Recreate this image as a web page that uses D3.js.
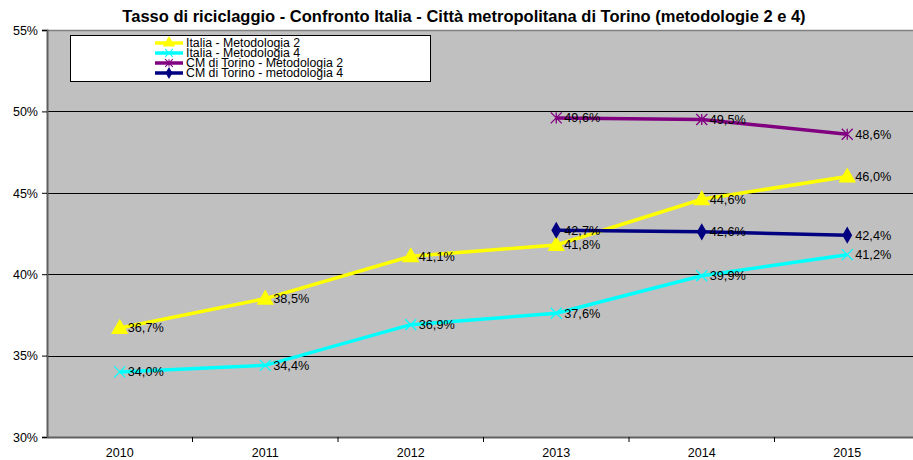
<!DOCTYPE html>
<html>
<head>
<meta charset="utf-8">
<script src="https://cdn.jsdelivr.net/npm/d3@7"></script>
<style>
  body { margin: 0; background: #fff; }
  text { font-family: Arial, "Liberation Sans", sans-serif; }
</style>
</head>
<body>
<svg id="chart" width="913" height="460"></svg>
<script>
// chart data
var years = ['2010', '2011', '2012', '2013', '2014', '2015']
var italiaM2 = [36.7, 38.5, 41.1, 41.8, 44.6, 46.0]
var italiaM4 = [34.0, 34.4, 36.9, 37.6, 39.9, 41.2]
var torinoM2 = [null, null, null, 49.6, 49.5, 48.6]
var torinoM4 = [null, null, null, 42.7, 42.6, 42.4]
var yTicks = [30, 35, 40, 45, 50, 55]
var seriesNames = ['Italia - Metodologia 2', 'Italia - Metodologia 4',
                   'CM di Torino - Metodologia 2', 'CM di Torino - metodologia 4']

var series = [
    { name: seriesNames[0], values: italiaM2, color: '#ffff00', marker: 'triangle' },
    { name: seriesNames[1], values: italiaM4, color: '#00ffff', marker: 'x' },
    { name: seriesNames[2], values: torinoM2, color: '#800080', marker: 'star' },
    { name: seriesNames[3], values: torinoM4, color: '#000080', marker: 'diamond' }
]

var svg = d3.select('#chart')
var plot = { left: 47, right: 920, top: 30, bottom: 437 }
var font = 'Arial, "Liberation Sans", sans-serif'

var x = d3.scaleBand().domain(years).range([plot.left, plot.right])
var y = d3.scaleLinear().domain([30, 55]).range([plot.bottom, plot.top])
var cx = function(i) { return x(years[i]) + x.bandwidth() / 2 }

// title
svg.append('text')
    .attr('x', 464).attr('y', 22)
    .attr('text-anchor', 'middle')
    .style('font-size', '16.5px').style('font-weight', 'bold')
    .text('Tasso di riciclaggio - Confronto Italia - Città metropolitana di Torino (metodologie 2 e 4)')

// plot background
svg.append('rect')
    .attr('x', plot.left).attr('y', plot.top)
    .attr('width', plot.right - plot.left).attr('height', plot.bottom - plot.top)
    .attr('fill', '#c0c0c0')
svg.append('line')
    .attr('x1', plot.left).attr('x2', plot.right)
    .attr('y1', plot.top + 0.5).attr('y2', plot.top + 0.5)
    .attr('stroke', '#808080').attr('stroke-width', 1.5)

// gridlines
svg.append('g').selectAll('line')
    .data(yTicks.slice(1, -1))
    .enter().append('line')
    .attr('x1', plot.left).attr('x2', plot.right)
    .attr('y1', function(d) { return Math.round(y(d)) + 0.5 })
    .attr('y2', function(d) { return Math.round(y(d)) + 0.5 })
    .attr('stroke', '#000').attr('stroke-width', 1)

// y axis
var yAxis = svg.append('g')
    .attr('transform', 'translate(' + plot.left + ',0)')
    .call(d3.axisLeft(y).tickValues(yTicks).tickSize(5).tickFormat(function(d) { return d + '%' }))
yAxis.select('.domain').attr('stroke', '#606060').attr('stroke-width', 2)
yAxis.selectAll('.tick line').attr('stroke', '#000')
yAxis.selectAll('.tick text').attr('x', -9).attr('dy', '0.35em')
    .style('font-size', '12.5px').style('font-family', font).attr('fill', '#000')

// x axis: ticks between categories
var xAxis = svg.append('g')
    .attr('transform', 'translate(0,' + plot.bottom + ')')
    .call(d3.axisBottom(x).tickSize(0).tickSizeOuter(0))
xAxis.select('.domain').attr('stroke', '#606060').attr('stroke-width', 2)
xAxis.selectAll('.tick text').attr('y', 11)
    .style('font-size', '12.5px').style('font-family', font).attr('fill', '#000')
xAxis.selectAll('.sep')
    .data(years.slice(1))
    .enter().append('line')
    .attr('x1', function(d) { return x(d) }).attr('x2', function(d) { return x(d) })
    .attr('y1', 0).attr('y2', 5)
    .attr('stroke', '#000')

// marker shapes
var markerPath = function(type, s) {
    if (type == 'triangle') return d3.symbol().type(d3.symbolTriangle).size(s * 11)()
    if (type == 'diamond') return d3.symbol().type(d3.symbolDiamond).size(s * 7)()
    var r = 5.5
    var p = 'M' + (-r) + ',' + (-r) + 'L' + r + ',' + r + 'M' + (-r) + ',' + r + 'L' + r + ',' + (-r)
    if (type == 'star') p += 'M0,' + (-r) + 'L0,' + r
    return p
}

var line = d3.line()
    .defined(function(d) { return d.v != null })
    .x(function(d) { return cx(d.i) })
    .y(function(d) { return y(d.v) })

series.forEach(function(s) {
    var pts = s.values.map(function(v, i) { return { v: v, i: i } })
    svg.append('path')
        .datum(pts)
        .attr('fill', 'none')
        .attr('stroke', s.color)
        .attr('stroke-width', 3.5)
        .attr('d', line)
    var filled = s.marker == 'triangle' || s.marker == 'diamond'
    svg.append('g').selectAll('path')
        .data(pts.filter(function(d) { return d.v != null }))
        .enter().append('path')
        .attr('transform', function(d) {
            return 'translate(' + cx(d.i) + ',' + (y(d.v) + (s.marker == 'triangle' ? 1 : 0)) + ')'
        })
        .attr('d', markerPath(s.marker, 12))
        .attr('fill', filled ? s.color : 'none')
        .attr('stroke', s.color)
        .attr('stroke-width', filled ? 0 : 1.3)
})

// data labels on top
series.forEach(function(s) {
    svg.append('g').selectAll('text')
        .data(s.values.map(function(v, i) { return { v: v, i: i } }).filter(function(d) { return d.v != null }))
        .enter().append('text')
        .attr('x', function(d) { return cx(d.i) + 8 })
        .attr('y', function(d) { return y(d.v) + 4.5 })
        .style('font-size', '12.7px')
        .attr('fill', '#000')
        .text(function(d) { return d.v.toFixed(1).replace('.', ',') + '%' })
})

// legend
var legend = svg.append('g')
legend.append('rect')
    .attr('x', 70.5).attr('y', 35.5).attr('width', 360).attr('height', 46)
    .attr('fill', '#fff').attr('stroke', '#000').attr('stroke-width', 1)
series.forEach(function(s, k) {
    var ly = 43 + k * 10
    legend.append('line')
        .attr('x1', 155).attr('x2', 183).attr('y1', ly).attr('y2', ly)
        .attr('stroke', s.color).attr('stroke-width', 3.5)
    var filled = s.marker == 'triangle' || s.marker == 'diamond'
    legend.append('path')
        .attr('transform', 'translate(169,' + ly + ') scale(0.7)')
        .attr('d', markerPath(s.marker, 12))
        .attr('fill', filled ? s.color : 'none')
        .attr('stroke', s.color)
        .attr('stroke-width', filled ? 0 : 1.5)
    legend.append('text')
        .attr('x', 186).attr('y', ly + 4)
        .style('font-size', '12.3px')
        .attr('fill', '#000')
        .text(s.name)
})
</script>
</body>
</html>
